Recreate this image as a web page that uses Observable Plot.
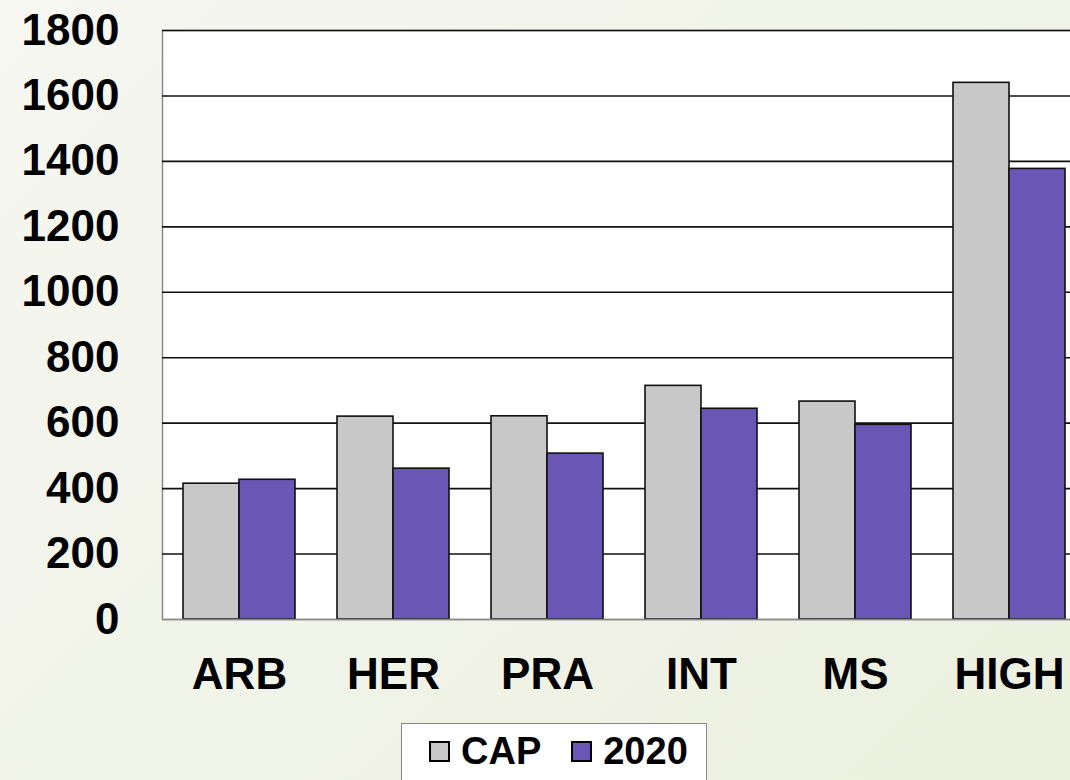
<!DOCTYPE html>
<html>
<head>
<meta charset="utf-8">
<script src="https://cdn.jsdelivr.net/npm/d3@7"></script>
<script src="https://cdn.jsdelivr.net/npm/@observablehq/plot@0.6"></script>
<style>
  html, body { margin: 0; padding: 0; width: 1070px; height: 780px; overflow: hidden; }
  body { background: linear-gradient(135deg, #f6f7f1 0%, #f0f3e7 55%, #ecf0de 100%); font-family: "Liberation Sans", Arial, sans-serif; position: relative; }
  #chart { position: absolute; left: 0; top: 0; width: 1100px; }
  #chart svg { max-width: none !important; }
  #legend { position: absolute; left: 401px; top: 723px; width: 306px; height: 60px; background: #fff; border: 1px solid #888; box-sizing: border-box; display: flex; align-items: center; padding-left: 27px; padding-bottom: 4px; font-weight: bold; font-size: 38px; color: #000; }
  .sw { display: inline-block; width: 17px; height: 17px; border: 2px solid #000; margin-right: 11px; }
  .item { display: flex; align-items: center; margin-right: 30px; }
</style>
</head>
<body>
<div id="chart"></div>
<div id="legend"></div>
<script>
const categories = ["ARB", "HER", "PRA", "INT", "MS", "HIGH"];
const capValues = [415, 620, 621, 714, 666, 1640];
const values2020 = [427, 461, 507, 644, 595, 1377];
const seriesNames = ["CAP", "2020"];
const seriesColors = ["#c8c8c8", "#6a56b4"];
const yTicks = [0, 200, 400, 600, 800, 1000, 1200, 1400, 1600, 1800];

const capData = categories.map((c, i) => ({cat: c, value: capValues[i]}));
const data2020 = categories.map((c, i) => ({cat: c, value: values2020[i]}));

const chart = Plot.plot({
  width: 1090,
  height: 705,
  marginTop: 30,
  marginBottom: 86,
  marginLeft: 162,
  marginRight: 4,
  style: {fontFamily: "'Liberation Sans', Arial, sans-serif", fontSize: "44px", fontWeight: "bold", background: "transparent", color: "#000", overflow: "visible", maxWidth: "none"},
  x: {domain: categories, padding: 0, label: null, tickSize: 0, tickPadding: 38},
  y: {domain: [0, 1800], ticks: yTicks, label: null, tickSize: 0, tickPadding: 43, tickFormat: d => String(d)},
  marks: [
    Plot.frame({fill: "#fff", stroke: "#8a8a8a", strokeWidth: 1.5}),
    Plot.ruleY(yTicks.filter(t => t > 0), {stroke: "#111", strokeWidth: 1.6}),
    Plot.barY(capData, {x: "cat", y: "value", fill: seriesColors[0], stroke: "#111", strokeWidth: 1.6, insetLeft: 21, insetRight: 77}),
    Plot.barY(data2020, {x: "cat", y: "value", fill: seriesColors[1], stroke: "#111", strokeWidth: 1.6, insetLeft: 77, insetRight: 21}),
    Plot.ruleY([0], {stroke: "#8a8a8a", strokeWidth: 1.5})
  ]
});
chart.style.maxWidth = "none";
document.getElementById("chart").appendChild(chart);

const legend = document.getElementById("legend");
seriesNames.forEach((name, i) => {
  const item = document.createElement("span");
  item.className = "item";
  const sw = document.createElement("span");
  sw.className = "sw";
  sw.style.background = seriesColors[i];
  item.appendChild(sw);
  item.appendChild(document.createTextNode(name));
  legend.appendChild(item);
});
</script>
</body>
</html>
